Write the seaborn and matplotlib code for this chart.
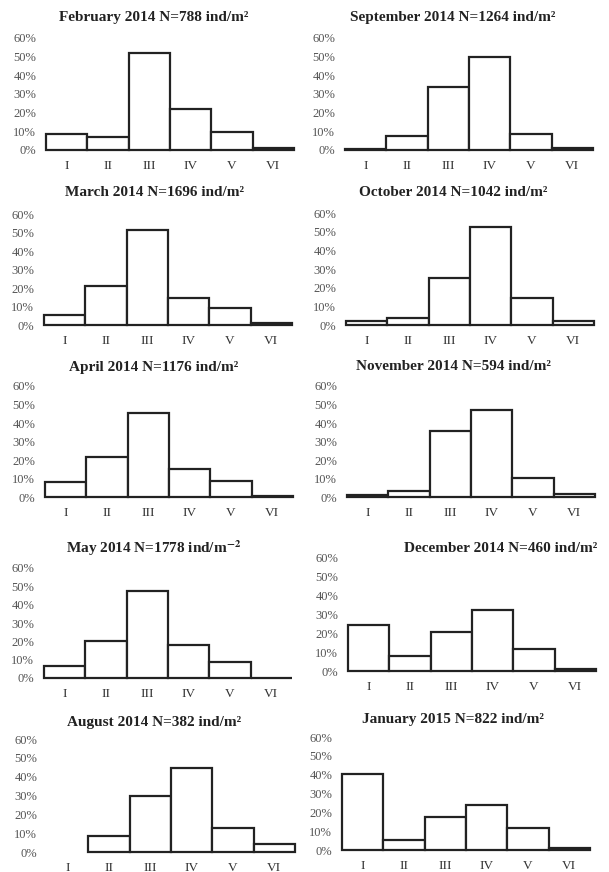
import numpy as np
import pandas as pd
import matplotlib
matplotlib.use("Agg")
import matplotlib.pyplot as plt
import seaborn as sns

sns.set_theme(style="white")
plt.rcParams['font.family'] = ['Liberation Serif', 'DejaVu Serif']
plt.rcParams['mathtext.fontset'] = 'stix'

classes = ["I", "II", "III", "IV", "V", "VI"]
yticks = [0, 10, 20, 30, 40, 50, 60]
ytick_labels = ["0%", "10%", "20%", "30%", "40%", "50%", "60%"]

titles = [
    "February 2014 N=788 ind/m²",
    "September 2014 N=1264 ind/m²",
    "March 2014 N=1696 ind/m²",
    "October 2014 N=1042 ind/m²",
    "April 2014 N=1176 ind/m²",
    "November 2014 N=594 ind/m²",
    r"May 2014 N=1778 ind/m$^{\mathbf{-2}}$",
    "December 2014 N=460 ind/m²",
    "August 2014 N=382 ind/m²",
    "January 2015 N=822 ind/m²",
]

feb_2014 = [8.8, 6.9, 51.7, 22.2, 9.8, 1.2]
sep_2014 = [0.4, 7.5, 33.8, 49.8, 8.4, 1.1]
mar_2014 = [5.2, 21.2, 51.5, 14.5, 9.0, 1.3]
oct_2014 = [2.1, 3.9, 25.4, 52.5, 14.3, 2.0]
apr_2014 = [8.1, 21.5, 45.2, 15.3, 8.4, 0.3]
nov_2014 = [1.0, 3.3, 35.8, 46.8, 10.0, 1.5]
may_2014 = [6.4, 20.0, 47.3, 17.8, 8.7, 0.2]
dec_2014 = [24.3, 8.1, 20.5, 32.6, 11.5, 1.2]
aug_2014 = [np.nan, 8.4, 29.9, 44.8, 12.8, 4.4]
jan_2015 = [40.3, 5.3, 17.4, 24.0, 11.5, 1.2]

series = [feb_2014, sep_2014, mar_2014, oct_2014, apr_2014,
          nov_2014, may_2014, dec_2014, aug_2014, jan_2015]

W, H = 609, 872
fig = plt.figure(figsize=(W / 100, H / 100), dpi=100)
fig.patch.set_facecolor("white")

# axes boxes in pixels: (left, top(60%), right, bottom(0%))
boxes = [
    (46, 38, 294, 150), (345, 38, 593, 150),
    (44, 214, 292, 325), (346, 213, 594, 325),
    (45, 386, 293, 497), (347, 386, 595, 497),
    (44, 568, 292, 678), (348, 558, 596, 671),
    (47, 739, 295, 852), (342, 737, 590, 850),
]
title_y = [17, 17, 193, 192, 367, 367, 548, 548, 722, 719]

for i, (title, vals) in enumerate(zip(titles, series)):
    l, t, r, b = boxes[i]
    ax = fig.add_axes([l / W, 1 - b / H, (r - l) / W, (b - t) / H])
    df = pd.DataFrame({"cls": classes, "pct": vals})
    sns.barplot(data=df, x="cls", y="pct", order=classes, ax=ax,
                color="white", saturation=1, edgecolor="#222222",
                linewidth=1.6, width=1.0, errorbar=None)
    for p in ax.patches:
        p.set_clip_on(False)
    ax.set_xlim(-0.5, 5.5)
    ax.set_ylim(0, 60)
    ax.set_yticks(yticks)
    ax.set_yticklabels(ytick_labels)
    ax.set_xlabel("")
    ax.set_ylabel("")
    for s in ax.spines.values():
        s.set_visible(False)
    ax.tick_params(axis="both", length=0)
    ax.tick_params(axis="y", pad=7, labelsize=9, labelcolor="#555555")
    ax.tick_params(axis="x", pad=7, labelsize=9.5, labelcolor="#333333")
    ax.set_facecolor("white")
    if i == 7:
        fig.text(597 / W, 1 - title_y[i] / H, title, ha="right", va="center",
                 fontsize=11, fontweight="bold", color="#222222")
    else:
        cx = 154 if i % 2 == 0 else 453
        fig.text(cx / W, 1 - title_y[i] / H, title, ha="center", va="center",
                 fontsize=11, fontweight="bold", color="#222222")

fig.savefig("out.png", dpi=100, facecolor="white")
